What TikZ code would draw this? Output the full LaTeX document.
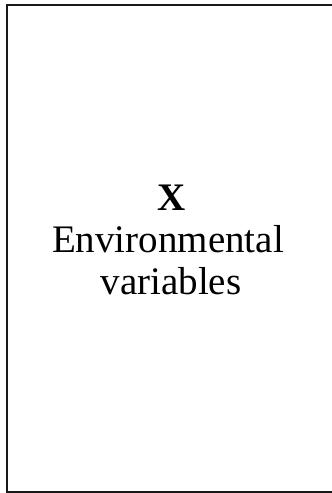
\documentclass[tikz,border=0pt]{standalone}
\usepackage{fontspec}
\setmainfont{Liberation Serif}
\begin{document}
\begin{tikzpicture}[x=1pt,y=-1pt,
  lbl/.style={anchor=base,inner sep=0pt,font=\fontsize{39}{42}\selectfont}]
\useasboundingbox (0,0) rectangle (332,493);
\begin{scope}
\clip (0,0) rectangle (332,493);
\draw[line width=2pt,black!90] (7,5) rectangle (345,491.5);
\end{scope}
\node[lbl] (x) at (172,210) {\textbf{X}};
\node[lbl] (env) at (168,252) {Environmental};
\node[lbl] (var) at (171,294) {variables};
\end{tikzpicture}
\end{document}
